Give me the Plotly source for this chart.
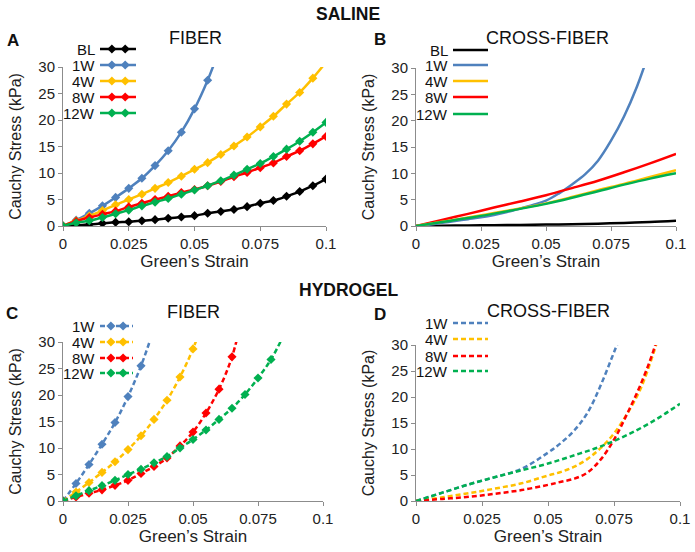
import plotly.graph_objects as go

W, H = 695, 552
FONT = "Liberation Sans, Arial, sans-serif"
COL = {"BL": "#000000", "1W": "#4F81BD", "4W": "#FFC000", "8W": "#FF0000", "12W": "#00B050"}

# ---------------- Panel A: SALINE / FIBER (markers) ----------------
a_strain = [0, 0.005, 0.01, 0.015, 0.02, 0.025, 0.03, 0.035, 0.04, 0.045, 0.05,
            0.055, 0.06, 0.065, 0.07, 0.075, 0.08, 0.085, 0.09, 0.095, 0.1]
a_BL = [0, 0.1, 0.3, 0.5, 0.7, 0.8, 1.0, 1.2, 1.45, 1.7, 1.95, 2.4, 2.75, 3.1, 3.65,
        4.3, 4.8, 5.6, 6.5, 7.6, 8.85]
a_1W = [0, 1.1, 2.4, 3.8, 5.4, 7.1, 9.0, 11.4, 14.2, 17.7, 22.1, 27.5, 34.0]
a_4W = [0, 1.0, 1.9, 2.9, 4.0, 5.0, 6.0, 7.1, 8.2, 9.4, 10.7, 11.95, 13.5, 15.1, 16.8,
        18.7, 20.7, 23.0, 25.2, 27.9, 30.9]
a_8W = [0, 0.9, 1.6, 2.2, 2.8, 3.6, 4.3, 5.0, 5.6, 6.3, 6.9, 7.6, 8.4, 9.3, 10.1,
        11.0, 11.9, 13.1, 14.2, 15.5, 16.9]
a_12W = [0, 0.6, 1.0, 1.6, 2.3, 3.0, 3.8, 4.5, 5.2, 6.0, 6.8, 7.6, 8.55, 9.6, 10.7,
         11.8, 13.1, 14.5, 16.0, 17.7, 19.55]

# ---------------- Panel B: SALINE / CROSS-FIBER (lines) ----------------
b_strain = [0, 0.01, 0.02, 0.03, 0.04, 0.05, 0.06, 0.07, 0.08, 0.09, 0.1]
b_BL = [0, 0.05, 0.1, 0.15, 0.2, 0.27, 0.35, 0.45, 0.58, 0.75, 1.0]
b_1W_strain = [0, 0.005, 0.01, 0.015, 0.02, 0.025, 0.03, 0.035, 0.04, 0.045, 0.05,
               0.055, 0.06, 0.065, 0.07, 0.075, 0.08, 0.085, 0.09]
b_1W = [0, 0.25, 0.6, 0.95, 1.3, 1.65, 2.1, 2.65, 3.3, 4.0, 4.8, 6.2, 7.9, 9.8,
        12.4, 16.2, 20.8, 26.5, 33.5]
b_4W = [0, 0.8, 1.6, 2.45, 3.35, 4.3, 5.5, 6.8, 8.0, 9.3, 10.6]
b_8W = [0, 1.15, 2.3, 3.5, 4.65, 5.85, 7.2, 8.6, 10.2, 11.9, 13.7]
b_12W = [0, 0.75, 1.5, 2.35, 3.25, 4.2, 5.35, 6.6, 7.85, 9.0, 10.0]

# ---------------- Panel C: HYDROGEL / FIBER (dashed + markers) ----------------
c_strain = [0, 0.005, 0.01, 0.015, 0.02, 0.025, 0.03, 0.035, 0.04, 0.045, 0.05,
            0.055, 0.06, 0.065, 0.07, 0.075, 0.08, 0.085]
c_1W = [0, 3.3, 6.9, 10.7, 14.8, 19.7, 25.5, 32.5]
c_4W = [0, 1.7, 3.5, 5.4, 7.4, 9.7, 12.3, 15.4, 19.0, 23.4, 28.7, 35.5]
c_8W = [0, 0.75, 1.45, 2.1, 2.95, 3.9, 5.2, 6.5, 8.1, 10.4, 13.0, 16.6, 21.1, 27.2, 37.0]
c_12W = [0, 1.0, 1.95, 2.9, 3.9, 5.0, 6.0, 7.2, 8.4, 10.0, 11.6, 13.4, 15.4, 17.5,
         20.1, 23.2, 26.7, 31.4]

# ---------------- Panel D: HYDROGEL / CROSS-FIBER (dashed) ----------------
d_strain = [0, 0.01, 0.02, 0.03, 0.04, 0.05, 0.055, 0.06, 0.065, 0.07, 0.075, 0.08,
            0.085, 0.09, 0.095]
d_1W = [0, 1.6, 3.2, 4.6, 6.2, 9.3, 11.2, 13.6, 17.0, 22.3, 28.6, 35.0]
d_4W = [0, 0.7, 1.5, 2.4, 3.4, 4.9, 5.6, 6.6, 8.1, 10.2, 13.0, 16.8, 21.5, 28.5, 37.0]
d_8W = [0, 0.4, 0.8, 1.4, 2.1, 3.1, 3.7, 4.3, 5.5, 8.0, 11.8, 16.8, 22.3, 29.0, 38.0]
d_12W_strain = [0, 0.01, 0.02, 0.03, 0.04, 0.05, 0.06, 0.07, 0.08, 0.09, 0.1]
d_12W = [0, 1.6, 3.2, 4.6, 5.9, 7.2, 8.8, 10.5, 12.7, 15.4, 18.7]

x_ticks = [0, 0.025, 0.05, 0.075, 0.1]
x_ticklabels = ["0", "0.025", "0.05", "0.075", "0.1"]
y_ticks = [0, 5, 10, 15, 20, 25, 30]

fig = go.Figure()


def px_x(p):
    return p / W


def px_y(p):
    return 1 - p / H


# plot areas in pixels: (left, right, top, bottom)
areas = {
    1: (63, 326, 67, 226),
    2: (416, 676, 68, 226),
    3: (63, 323, 342, 501),
    4: (416, 680, 345, 501),
}

layout_axes = {}
for i, (l, r, t, b) in areas.items():
    xs = "xaxis" if i == 1 else f"xaxis{i}"
    ys = "yaxis" if i == 1 else f"yaxis{i}"
    common = dict(showline=True, linecolor="#8c8c8c", linewidth=1, ticks="outside",
                  ticklen=4, tickcolor="#8c8c8c", showgrid=False, zeroline=False,
                  automargin=False, fixedrange=True,
                  tickfont=dict(family=FONT, size=15, color="#222"))
    layout_axes[xs] = dict(domain=[px_x(l), px_x(r)], range=[0, 0.1], tickvals=x_ticks,
                           ticktext=x_ticklabels, anchor=f"y{'' if i == 1 else i}",
                           title=dict(text="Green\u2019s Strain", standoff=0,
                                      font=dict(family=FONT, size=17, color="#222")),
                           **common)
    layout_axes[ys] = dict(domain=[px_y(b), px_y(t)], range=[0, 30], tickvals=y_ticks,
                           anchor=f"x{'' if i == 1 else i}",
                           title=dict(text="Cauchy Stress (kPa)", standoff=12,
                                      font=dict(family=FONT, size=16, color="#222")),
                           **common)


def add(x, y, name, panel, dashed=False, markers=False):
    ax = "" if panel == 1 else str(panel)
    n = min(len(x), len(y))
    fig.add_trace(go.Scatter(
        x=x[:n], y=y[:n], mode="lines+markers" if markers else "lines",
        line=dict(color=COL[name], width=2.5, shape="spline",
                  dash="5px,3px" if dashed else "solid"),
        marker=dict(symbol="diamond", size=7, color=COL[name]),
        xaxis="x" + ax, yaxis="y" + ax, showlegend=False, name=name, cliponaxis=True))


add(a_strain, a_BL, "BL", 1, markers=True)
add(a_strain, a_1W, "1W", 1, markers=True)
add(a_strain, a_4W, "4W", 1, markers=True)
add(a_strain, a_8W, "8W", 1, markers=True)
add(a_strain, a_12W, "12W", 1, markers=True)

add(b_strain, b_BL, "BL", 2)
add(b_1W_strain, b_1W, "1W", 2)
add(b_strain, b_8W, "8W", 2)
add(b_strain, b_4W, "4W", 2)
add(b_strain, b_12W, "12W", 2)

add(c_strain, c_1W, "1W", 3, dashed=True, markers=True)
add(c_strain, c_4W, "4W", 3, dashed=True, markers=True)
add(c_strain, c_8W, "8W", 3, dashed=True, markers=True)
add(c_strain, c_12W, "12W", 3, dashed=True, markers=True)

add(d_strain, d_1W, "1W", 4, dashed=True)
add(d_strain, d_4W, "4W", 4, dashed=True)
add(d_strain, d_8W, "8W", 4, dashed=True)
add(d_12W_strain, d_12W, "12W", 4, dashed=True)

# ---------- manual legends (text left of sample, like the original) ----------
legend_specs = [
    (["BL", "1W", "4W", "8W", "12W"], [49, 65, 81, 97, 113], 97, 100, 136, False, True),
    (["BL", "1W", "4W", "8W", "12W"], [50, 65, 81, 97, 114], 450, 453, 488, False, False),
    (["1W", "4W", "8W", "12W"], [326, 342, 358, 373], 97, 100, 133, True, True),
    (["1W", "4W", "8W", "12W"], [323, 339, 356, 371], 450, 453, 488, True, False),
]
annotations = []
for names, ys_, tx, x0, x1, dashed, mk in legend_specs:
    for nm, yy in zip(names, ys_):
        fig.add_trace(go.Scatter(
            x=[x0, x1], y=[yy, yy], mode="lines", xaxis="x5", yaxis="y5",
            line=dict(color=COL[nm], width=2.5, dash="5px,3px" if dashed else "solid"),
            showlegend=False, hoverinfo="skip"))
        if mk:
            fig.add_trace(go.Scatter(
                x=[x0 + (x1 - x0) * 0.33, x0 + (x1 - x0) * 0.7], y=[yy, yy], mode="markers",
                xaxis="x5", yaxis="y5", marker=dict(symbol="diamond", size=7, color=COL[nm]),
                showlegend=False, hoverinfo="skip"))
        annotations.append(dict(x=tx, y=yy, xref="x5", yref="y5", text=nm, showarrow=False,
                                xanchor="right", yanchor="middle",
                                font=dict(family=FONT, size=15, color="#111")))

texts = [
    ("SALINE", 348, 14, 17.5, True),
    ("HYDROGEL", 348, 290, 17.5, True),
    ("A", 13, 40, 17, True),
    ("B", 380, 39, 17, True),
    ("C", 12, 313, 17, True),
    ("D", 380, 314, 17, True),
    ("FIBER", 195, 38, 18, False),
    ("CROSS-FIBER", 547, 38, 18, False),
    ("FIBER", 193, 312, 18, False),
    ("CROSS-FIBER", 548, 311, 18, False),
]
for t, x, y, s, bold in texts:
    annotations.append(dict(x=x, y=y, xref="x5", yref="y5",
                            text=f"<b>{t}</b>" if bold else t, showarrow=False,
                            xanchor="center", yanchor="middle",
                            font=dict(family=FONT, size=s, color="#111")))

fig.update_layout(
    width=W, height=H, margin=dict(l=0, r=0, t=0, b=0, autoexpand=False),
    paper_bgcolor="white", plot_bgcolor="rgba(0,0,0,0)",
    showlegend=False, annotations=annotations, hovermode=False,
    xaxis5=dict(domain=[0, 1], range=[0, W], visible=False, anchor="y5", fixedrange=True,
                automargin=False),
    yaxis5=dict(domain=[0, 1], range=[H, 0], visible=False, anchor="x5", fixedrange=True,
                automargin=False),
    **layout_axes,
)

fig.write_html("out.html", config={"displayModeBar": False},
               post_script="document.body.style.margin='0';")
